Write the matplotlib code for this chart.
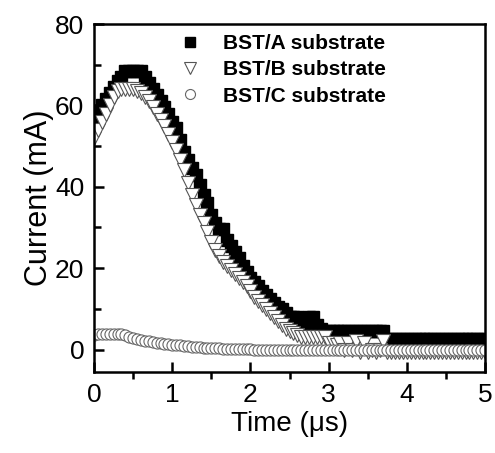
import matplotlib.pyplot as plt
import numpy as np

plt.rcParams['font.family'] = ['Liberation Sans', 'DejaVu Sans']

# Time axis (microseconds), sampled every 0.05 us
time_us = [round(0.05 * i, 2) for i in range(101)]

# BST/A substrate current (mA)
current_a = [57, 58.5, 60, 61.5, 63, 64.5, 66, 67, 68.5, 68.5,
             68.5, 68.5, 68.5, 67, 65.5, 64, 62.5, 61, 59.5, 58,
             56, 54.5, 51.5, 48.5, 46.5, 44.5, 43, 40.5, 38, 36,
             33, 31, 29.5, 29.5, 27, 25.5, 24, 22.5, 20.5, 19,
             17.5, 16.5, 15.5, 14.5, 13.5, 12.5, 11.5, 10.5, 10, 9,
             8, 8, 8, 6.5, 6.5, 8, 8, 6, 5, 4.5,
             4.5, 4.5, 4.5, 4.5, 4.5, 4.5, 4.5, 4.5, 4.5, 4.5,
             4.5, 4.5, 4.5, 4.5, 4.5, 2.5, 2.5, 2.5, 2.5, 2.5,
             2.5, 2.5, 2.5, 2.5, 2.5, 2.5, 2.5, 2.5, 2.5, 2.5,
             2.5, 2.5, 2.5, 2.5, 2.5, 2.5, 2.5, 2.5, 2.5, 2.5, 2.5]

# BST/B substrate current (mA)
current_b = [52, 54, 56, 58, 60, 62, 63.5, 64, 64, 64,
             64, 63.5, 63, 62, 61, 59.5, 58, 56.5, 55, 53,
             51, 49, 46.5, 44, 41, 38, 35.5, 33, 31, 29,
             26.5, 24.5, 23, 21.5, 20.5, 19.5, 18.5, 17.5, 16.5, 15.5,
             14.5, 13, 12, 11, 10, 9, 8, 7, 6, 5,
             4.5, 4, 3.5, 3, 3, 3, 3, 3, 3, 3,
             1.5, 1.5, 1, 1.5, 0, 1.5, 0, 2, -0.5, 1.5,
             -0.5, 0, -0.5, 0, 2, -0.5, -0.5, -0.5, -0.5, -0.5,
             -0.5, -0.5, -0.5, -0.5, -0.5, -0.5, -0.5, -0.5, -0.5, -0.5,
             -0.5, -0.5, -0.5, -0.5, -0.5, -0.5, -0.5, -0.5, -0.5, -0.5, -0.5]

# BST/C substrate current (mA)
current_c = [3.5, 3.7, 3.8, 3.9, 3.9, 3.9, 3.8, 3.7, 3.5, 3.2,
             2.9, 2.6, 2.4, 2.2, 2.0, 1.9, 1.7, 1.6, 1.4, 1.3,
             1.2, 1.1, 1.0, 0.9, 0.8, 0.7, 0.6, 0.5, 0.4, 0.4,
             0.3, 0.3, 0.3, 0.2, 0.2, 0.2, 0.2, 0.2, 0.1, 0.1,
             0.1, 0.0, 0.0, 0.0, -0.1, -0.1, -0.1, -0.2, -0.2, -0.2,
             -0.2, -0.2, -0.2, -0.2, -0.2, -0.2, -0.2, -0.2, -0.2, -0.2,
             -0.2, -0.2, -0.2, -0.2, -0.2, -0.2, -0.2, -0.2, -0.2, -0.2,
             -0.2, -0.2, -0.2, -0.2, -0.2, -0.2, -0.2, -0.2, -0.2, -0.2,
             -0.2, -0.2, -0.2, -0.2, -0.2, -0.2, -0.2, -0.2, -0.2, -0.2,
             -0.2, -0.2, -0.2, -0.2, -0.2, -0.2, -0.2, -0.2, -0.2, -0.2, -0.2]

labels = ["BST/A substrate", "BST/B substrate", "BST/C substrate"]
x_ticks = [0, 1, 2, 3, 4, 5]
y_ticks = [0, 20, 40, 60, 80]

fig = plt.figure(figsize=(4.95, 4.53), dpi=100)
ax = fig.add_axes([0.19, 0.179, 0.79, 0.768])

# Draw in order so the open markers sit above the solid squares
ax.plot(time_us, current_a, linestyle="none", marker="s", markersize=8.5,
        markerfacecolor="black", markeredgecolor="black", label=labels[0])
ax.plot(time_us, current_b, linestyle="none", marker="v", markersize=10,
        markerfacecolor="white", markeredgecolor="#555555", markeredgewidth=0.8,
        label=labels[1])
ax.plot(time_us, current_c, linestyle="none", marker="o", markersize=8,
        markerfacecolor="white", markeredgecolor="#666666", markeredgewidth=0.8,
        label=labels[2])

ax.set_xlim(0, 5)
ax.set_ylim(-5.5, 80)
ax.set_xticks(x_ticks)
ax.set_yticks(y_ticks)
ax.set_xticks(np.arange(0.5, 5, 1), minor=True)
ax.set_yticks(np.arange(10, 80, 20), minor=True)

ax.set_xlabel("Time (\u03bcs)", fontsize=20, labelpad=3)
ax.set_ylabel("Current (mA)", fontsize=22, labelpad=1)

# Origin style axes: heavy frame, major ticks inside
for spine in ax.spines.values():
    spine.set_linewidth(1.8)
ax.tick_params(axis="both", which="major", direction="in", length=7, width=1.8,
               labelsize=19)
ax.tick_params(axis="x", which="major", pad=8)
ax.tick_params(axis="y", which="major", pad=7)
ax.tick_params(axis="x", which="minor", direction="out", length=5, width=1.8)
ax.tick_params(axis="y", which="minor", direction="in", length=5, width=1.8)

leg = ax.legend(loc="upper left", bbox_to_anchor=(0.17, 1.025), frameon=False,
                markerscale=0.9, handlelength=1.0, handletextpad=1.1,
                labelspacing=0.35, prop={"weight": "bold", "size": 15})

fig.savefig("out.png", dpi=100)
